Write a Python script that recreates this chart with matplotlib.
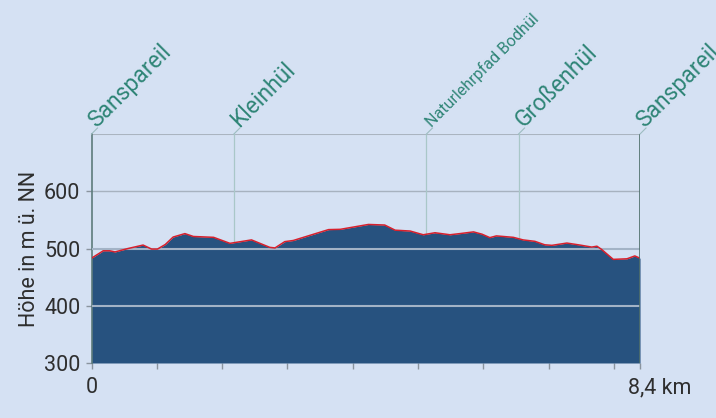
import matplotlib.pyplot as plt
from matplotlib.transforms import offset_copy

# profile (km, m above sea level)
km = [0.0, 0.18, 0.28, 0.36, 0.56, 0.79, 0.92, 1.01, 1.13, 1.25, 1.43, 1.56,
      1.87, 2.12, 2.45, 2.73, 2.81, 2.96, 3.09, 3.63, 3.81, 4.24, 4.49, 4.65,
      4.88, 5.08, 5.26, 5.49, 5.64, 5.85, 5.98, 6.10, 6.20, 6.46, 6.61, 6.79,
      6.94, 7.05, 7.28, 7.48, 7.66, 7.74, 7.81, 7.99, 8.20, 8.32, 8.40]
hoehe = [483, 496, 496, 494, 500, 506, 499, 499, 507, 520, 526, 521,
         519.5, 509, 515, 502, 501, 512, 514, 533, 533.5, 542, 541, 532,
         530.5, 524, 527.5, 524, 526, 529, 525, 519, 522, 519.5, 515, 512.5,
         506.5, 505.5, 509.5, 506, 502.5, 504, 498.5, 481, 482, 487, 483]

orte = ["Sanspareil", "Kleinhül", "Naturlehrpfad Bodhül", "Großenhül", "Sanspareil"]
orte_km = [0.0, 2.18, 5.13, 6.54, 8.4]
orte_gross = [True, True, False, True, True]

bg = "#d5e1f3"
plt.rcParams['font.family'] = ["Roboto", "DejaVu Sans"]

fig = plt.figure(figsize=(7.16, 4.18), dpi=100, facecolor=bg)
ax = fig.add_axes([0.1278, 0.1316, 0.7661, 0.5478], facecolor=bg)

ax.set_xlim(0, 8.4)
ax.set_ylim(300, 700)

# grid behind
ax.axhline(600, color="#a7b2bf", lw=1, zorder=1)
ax.axhline(700, color="#aab4c0", lw=1.5, zorder=1)
for k in orte_km[1:-1]:
    ax.axvline(k, color="#a9c7c8", lw=0.9, zorder=1)

ax.fill_between(km, hoehe, 300, color="#27527f", lw=0, zorder=2)
ax.plot(km, hoehe, color="#d8202c", lw=1.1, zorder=4)

# lines over the fill
for h in [400, 500]:
    ax.axhline(h, color="#a3b3c6", lw=1.5, zorder=3)

ax.axvline(8.4, color="#4e6e6a", lw=1.2, zorder=5)

for s in ["top", "right", "bottom"]:
    ax.spines[s].set_visible(False)
ax.spines["left"].set_color("#5d7c7c")
ax.spines["left"].set_linewidth(1.2)

ax.set_yticks([300, 400, 500, 600])
ax.set_yticklabels(["300", "400", "500", "600"])
ax.set_xticks([0, 8.4])
ax.set_xticklabels(["0", ""])
ax.set_xticks([1, 2, 3, 4, 5, 6, 7, 8], minor=True)
ax.tick_params(axis="both", which="both", colors="#8a949e", labelcolor="#2e2e2e",
               labelsize=15.5, length=4, width=1)
ax.tick_params(axis="y", pad=4)
ax.tick_params(axis="x", pad=6)

ax.annotate("8,4 km", xy=(8.4, 300), xytext=(-9, -10.5), textcoords="offset points",
            ha="left", va="top", fontsize=15.5, color="#2e2e2e")

ax.set_ylabel("Höhe in m ü. NN", fontsize=15.5, color="#2e2e2e", labelpad=3)

# place names, rotated
for name, k, gross in zip(orte, orte_km, orte_gross):
    x0, y0 = ax.transData.transform((k, 700))
    xa, ya = fig.transFigure.inverted().transform((x0, y0))
    x1, y1 = fig.transFigure.inverted().transform((x0 + 6, y0 + 6))
    fig.add_artist(plt.Line2D([xa, x1], [ya, y1], color="#9dbcc0", lw=0.8))
    ax.text(k, 700, name, transform=offset_copy(ax.transData, fig=fig, x=5, y=6, units="dots"),
            rotation=45, rotation_mode="anchor", ha="left", va="baseline",
            fontsize=16.5 if gross else 11.5, color="#2f8577", clip_on=False)

fig.savefig("out.png", dpi=100, facecolor=bg)
